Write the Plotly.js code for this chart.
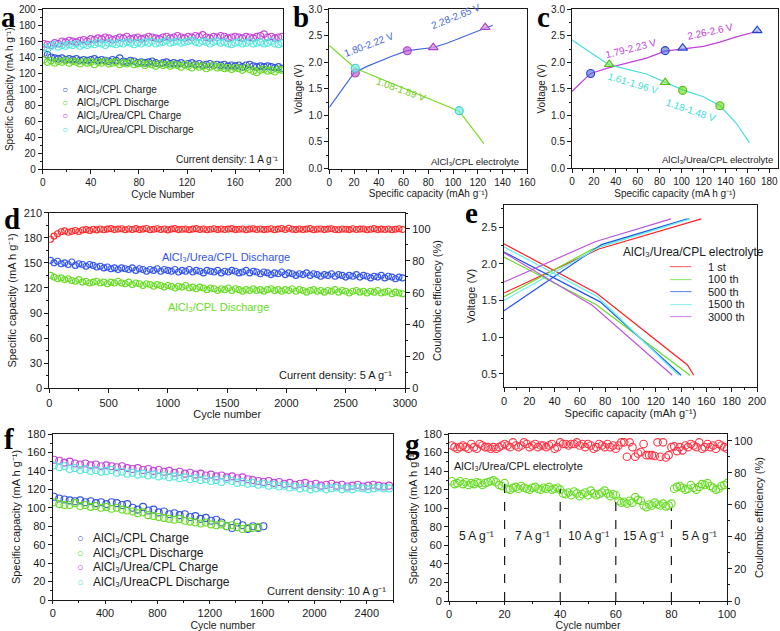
<!DOCTYPE html>
<html><head><meta charset="utf-8">
<script src="https://cdn.plot.ly/plotly-3.0.1.min.js"></script>
<style>html,body{margin:0;padding:0;background:#fff;overflow:hidden}#chart{width:780px;height:631px}</style>
</head><body><div id="chart"></div>
<script>
// ---------------- DATA ----------------
// Panel a (1 A g-1, cycles 1..199 every 3rd cycle)
const aCycleStart = 1, aCycleStep = 3;
const aCplCharge = [145,143,140,139,138,139,137,138,137,138,136,137,136,137,138,136,137,136,135,137,136,139,135,134,136,135,133,134,133,134,135,133,132,133,134,132,133,132,133,131,132,133,131,132,130,131,132,130,131,130,131,129,130,129,130,128,130,131,129,128,129,128,129,128,127,128,126];
const aCplDischarge = [137,134,136,133,135,134,136,133,135,134,132,135,133,134,131,134,133,135,132,133,134,131,133,132,134,131,132,133,130,132,131,129,132,130,131,129,131,130,128,131,129,127,130,128,129,126,128,130,127,128,126,127,125,127,126,124,127,125,123,121,124,125,123,124,122,125,124];
const aUreaCharge = [157,156,155,158,157,160,159,161,160,159,161,162,160,163,162,164,163,165,164,162,163,165,164,166,163,164,165,163,164,166,165,164,163,165,166,164,165,167,165,164,166,165,167,166,168,165,164,166,165,167,166,164,165,166,165,164,166,165,164,166,167,169,165,166,164,165,166];
const aUreaDischarge = [152,150,154,156,153,155,154,156,155,157,154,156,155,157,156,158,157,155,158,157,156,158,157,159,158,156,158,157,159,158,160,157,158,159,161,158,159,160,158,159,160,161,159,158,160,159,157,159,160,158,159,157,156,158,159,157,158,160,157,158,159,157,158,160,157,156,158];
const aNames = ['AlCl₃/CPL Charge','AlCl₃/CPL Discharge','AlCl₃/Urea/CPL Charge','AlCl₃/Urea/CPL Discharge'];

// Panel b (AlCl3/CPL electrolyte)
const bChargeCap = [0,20,30,40,50,63,70,84,95,105,115,126,132];
const bChargeV   = [1.15,1.80,1.92,2.02,2.11,2.22,2.24,2.28,2.36,2.45,2.55,2.65,2.70];
const bDischargeCap = [0,21,105,125];
const bDischargeV   = [2.32,1.89,1.08,0.47];
const bPlateauCircleCap = [21,63],  bPlateauCircleV = [1.80,2.22];
const bPlateauTriCap    = [84,126], bPlateauTriV    = [2.28,2.66];
const bDisPointCap      = [21,105], bDisPointV      = [1.89,1.09];

// Panel c (AlCl3/Urea/CPL electrolyte)
const cChargeCap = [0,17,34,50,68,85,101,120,135,150,170];
const cChargeV   = [1.45,1.79,1.90,1.98,2.08,2.21,2.25,2.30,2.38,2.48,2.59];
const cDischargeCap = [0,34,68,85,101,120,135,150,162];
const cDischargeV   = [2.42,1.95,1.78,1.62,1.48,1.35,1.18,0.85,0.48];
const cChgCircleCap = [17,85],  cChgCircleV = [1.79,2.22];
const cChgTriCap    = [101,169], cChgTriV   = [2.27,2.60];
const cDisTriCap    = [34,85],  cDisTriV    = [1.96,1.62];
const cDisCircleCap = [101,135], cDisCircleV = [1.47,1.18];

// Panel d (5 A g-1, cycles every 30)
const dCycleStart = 10, dCycleStep = 30;
const dEfficiency = [93.5,95.5,97.0,98.2,98.8,97.9,98.5,99.0,98.4,99.3,99.6,99.1,99.8,99.4,100.0,99.5,99.9,100.2,99.6,99.9,100.1,99.5,100.0,99.7,100.2,99.6,99.9,100.3,99.5,99.8,100.1,99.7,100.0,99.4,99.9,100.2,99.6,99.8,100.0,99.5,99.9,100.2,99.7,100.0,99.5,99.8,100.1,99.6,100.0,99.7,99.9,100.2,99.6,99.8,100.0,99.5,99.9,100.1,99.7,100.0,99.6,99.8,100.1,99.5,99.9,100.3,99.7,100.4,99.8,99.6,100.0,99.7,99.9,100.2,99.5,99.8,100.0,99.6,99.9,100.1,99.7,99.5,100.0,99.8,99.6,100.1,99.7,99.9,100.0,99.5,99.8,100.2,99.6,99.9,99.7,100.0,99.5,99.8,100.1,99.7];
const dUreaDischarge = [153,150,152,149,150,148,151,147,149,148,146,148,147,145,146,144,145,143,144,142,144,143,142,144,141,143,142,140,142,141,143,140,142,141,140,142,139,141,140,142,139,141,140,138,141,140,139,141,138,140,139,141,140,138,139,141,138,140,139,137,139,138,136,138,137,139,136,138,137,135,137,136,138,135,137,136,134,136,135,137,134,136,135,133,135,134,136,133,135,134,132,134,133,135,132,134,133,131,133,132];
const dCplDischarge = [135,133,131,132,130,131,129,128,130,127,128,126,127,128,126,127,125,127,126,128,126,125,127,124,126,125,123,125,124,122,124,123,121,123,122,120,122,121,123,120,121,119,121,120,118,120,119,117,119,118,120,117,119,118,116,118,117,119,117,118,116,118,119,117,118,116,118,117,119,116,118,117,115,117,118,116,117,115,117,116,118,115,117,116,114,116,117,115,116,114,116,115,117,114,115,116,113,115,114,113];

// Panel e (voltage profiles at selected cycles)
const eCycleLabels = ['1 st','100 th','500 th','1500 th','3000 th'];
const eChargeCap = [[0,75,156],[0,70,147],[0,77,145],[0,76,147],[0,72,132]];
const eChargeV   = [[1.60,2.20,2.61],[1.55,2.20,2.62],[1.36,2.26,2.61],[1.50,2.23,2.61],[1.75,2.30,2.61]];
const eDischargeCap = [[0,73,145,150],[0,73,147],[0,76,140],[0,74,138],[0,70,133]];
const eDischargeV   = [[2.27,1.60,0.62,0.48],[2.09,1.44,0.48],[2.16,1.48,0.48],[2.23,1.55,0.48],[2.15,1.43,0.48]];

// Panel f (10 A g-1, cycles every 40)
const fCycleStart = 10, fCycleStep = 40;
const fCplCharge = [112,110,109,108,107,108,106,107,105,106,104,106,105,103,104,100,98,101,97,98,95,96,93,94,92,93,90,91,88,89,86,87,84,80,78,84,81,77,80,78,80];
const fCplDischarge = [106,104,103,103,105,102,103,101,102,100,101,99,100,98,97,96,94,95,92,91,90,89,88,87,88,86,85,84,83,84,82,81,82,80,81,79,77,78,78,79];
const fUreaCharge = [152,151,149,150,148,147,148,146,147,145,146,145,144,145,143,142,143,141,142,140,141,139,140,138,139,137,138,136,137,135,136,134,135,133,134,132,133,131,130,129,128,129,127,128,126,127,125,126,127,125,126,124,125,126,124,125,123,124,125,123,124,125,124,123,124];
const fUreaDischarge = [146,144,145,142,143,141,142,140,141,139,140,141,138,139,137,138,136,137,135,136,134,135,133,134,132,133,131,132,130,131,129,130,128,131,129,127,128,126,127,125,126,124,125,123,124,122,123,121,122,120,121,122,120,121,122,120,121,120,122,121,120,121,122,121,121];
const fNames = ['AlCl₃/CPL Charge','AlCl₃/CPL Discharge','AlCl₃/Urea/CPL Charge','AlCl₃/UreaCPL Discharge'];

// Panel g (rate performance, cycles 1..100)
const gCycleStart = 1, gCycleStep = 1;
const gCapacity = [129,126,127,129,126,128,125,127,126,128,127,125,127,128,129,130,128,125,124,127,
                   121,120,122,123,121,124,122,121,120,122,123,121,120,122,121,123,120,121,122,120,
                   116,115,117,114,118,116,113,115,117,114,119,116,114,115,117,119,116,113,115,114,
                   108,106,107,105,108,106,112,109,108,103,101,104,103,106,104,103,105,102,103,105,
                   121,123,124,122,120,121,125,122,120,123,126,125,127,124,122,120,121,124,125,127];
const gEfficiency = [97,96,95,96,97,96,95,98,96,95,98,97,96,96,95,96,95,96,97,98,
                     97,96,99,97,96,97,99,98,96,97,98,96,97,97,96,97,98,95,96,99,
                     98,98,97,98,98,99,97,98,96,98,97,95,96,98,97,96,98,96,97,95,
                     97,99,99,90,99,96,90,92,93,98,91,91,91,90.5,99,90,99,89.5,91,96,
                     96.5,93.5,96,94,97,96,98,97,96,99,95,96,98,96,97,95,98,97,96,95];
const gRateBounds = [0,20,40,60,80,100];
const gRateLabels = ['5 A g⁻¹','7 A g⁻¹','10 A g⁻¹','15 A g⁻¹','5 A g⁻¹'];
const gDividerCycles = [20,40,60,80];
const gDividerTops = [128,121,110,100];

// ---------------- STYLE ----------------
const W = 780, H = 631;
const fx = p => p / W, fy = p => 1 - p / H;
const FONT = 'Liberation Sans, Arial, Helvetica, sans-serif';
const INK = '#1a1a1a';
const BLUE = '#3355dd', GREEN = '#66dd22', MAGENTA = '#c444dd', CYAN = '#55e8dd', RED = '#ff2a2a';
const aColors = [BLUE, GREEN, MAGENTA, CYAN];
const eColors = ['#ff2020', '#66dd22', '#2255ee', '#66eeee', '#bb55dd'];

const cycles = (start, step, n) => Array.from({length: n}, (_, i) => start + i * step);

function axis(o) {
  const t0 = o.tick0 || 0;
  const a = {
    domain: o.domain, range: o.range, autorange: false, dtick: o.dtick, tick0: t0, tickmode: 'linear',
    ticks: 'outside', ticklen: o.ticklen || 4, tickwidth: 1, tickcolor: INK,
    showline: true, linecolor: INK, linewidth: 1, mirror: o.mirror === undefined ? true : o.mirror,
    showgrid: false, zeroline: false, fixedrange: true, automargin: false,
    tickfont: {size: o.fs, color: INK, family: FONT},
    minor: {ticks: 'outside', ticklen: 2, tickwidth: 1, tickcolor: INK, dtick: o.dtick / 2, tick0: t0, showgrid: false},
    title: {text: o.title || '', font: {size: o.tfs || o.fs, color: INK, family: FONT}, standoff: o.standoff === undefined ? 3 : o.standoff},
    anchor: o.anchor
  };
  if (o.tickformat) a.tickformat = o.tickformat;
  if (o.side) a.side = o.side;
  if (o.overlaying) a.overlaying = o.overlaying;
  return a;
}

function dots(x, y, color, xa, ya, size) {
  return {type: 'scatter', mode: 'markers', x, y, xaxis: xa, yaxis: ya, showlegend: false, hoverinfo: 'skip',
          marker: {symbol: 'circle-open', size: size, color: color, line: {width: 1.1, color: color}}};
}
function line(x, y, color, xa, ya, width, dash) {
  return {type: 'scatter', mode: 'lines', x, y, xaxis: xa, yaxis: ya, showlegend: false, hoverinfo: 'skip',
          line: {color: color, width: width || 1.2, dash: dash || 'solid'}};
}
function pts(x, y, color, fill, symbol, xa, ya, size) {
  return {type: 'scatter', mode: 'markers', x, y, xaxis: xa, yaxis: ya, showlegend: false, hoverinfo: 'skip',
          marker: {symbol: symbol, size: size, color: fill, line: {width: 1.1, color: color}}};
}

const traces = [];
// a
[aCplCharge, aCplDischarge, aUreaCharge, aUreaDischarge].forEach((s, i) => {
  traces.push(dots(cycles(aCycleStart, aCycleStep, s.length), s, aColors[i], 'x', 'y', 6.5));
});
// b
traces.push(line(bChargeCap, bChargeV, '#4466dd', 'x2', 'y2'));
traces.push(line(bDischargeCap, bDischargeV, '#77dd22', 'x2', 'y2'));
traces.push(pts(bPlateauCircleCap, bPlateauCircleV, '#b040c8', 'rgba(190,80,210,0.65)', 'circle', 'x2', 'y2', 8));
traces.push(pts(bPlateauTriCap, bPlateauTriV, '#b040c8', 'rgba(210,150,230,0.75)', 'triangle-up', 'x2', 'y2', 8.5));
traces.push(pts(bDisPointCap, bDisPointV, '#44cccc', 'rgba(120,235,235,0.7)', 'circle', 'x2', 'y2', 8));
// c
traces.push(line(cChargeCap, cChargeV, '#c040d8', 'x3', 'y3'));
traces.push(line(cDischargeCap, cDischargeV, '#44dddd', 'x3', 'y3'));
traces.push(pts(cChgCircleCap, cChgCircleV, '#2244cc', 'rgba(70,100,220,0.6)', 'circle', 'x3', 'y3', 8));
traces.push(pts(cChgTriCap, cChgTriV, '#2244cc', 'rgba(140,165,240,0.6)', 'triangle-up', 'x3', 'y3', 8.5));
traces.push(pts(cDisTriCap, cDisTriV, '#55bb11', 'rgba(140,230,80,0.6)', 'triangle-up', 'x3', 'y3', 8.5));
traces.push(pts(cDisCircleCap, cDisCircleV, '#55bb11', 'rgba(110,220,40,0.65)', 'circle', 'x3', 'y3', 8));
// d
traces.push(dots(cycles(dCycleStart, dCycleStep, dUreaDischarge.length), dUreaDischarge, '#3355ee', 'x4', 'y4', 6));
traces.push(dots(cycles(dCycleStart, dCycleStep, dCplDischarge.length), dCplDischarge, GREEN, 'x4', 'y4', 6));
traces.push(dots(cycles(dCycleStart, dCycleStep, dEfficiency.length), dEfficiency, RED, 'x4', 'y5', 6));
// e
eCycleLabels.forEach((lab, i) => {
  traces.push(line(eChargeCap[i], eChargeV[i], eColors[i], 'x5', 'y6', 1.2));
  traces.push(line(eDischargeCap[i], eDischargeV[i], eColors[i], 'x5', 'y6', 1.2));
});
// f
[fCplCharge, fCplDischarge, fUreaCharge, fUreaDischarge].forEach((s, i) => {
  traces.push(dots(cycles(fCycleStart, fCycleStep, s.length), s, aColors[i], 'x6', 'y7', 7));
});
// g
traces.push(dots(cycles(gCycleStart, gCycleStep, gEfficiency.length), gEfficiency, '#ff3344', 'x7', 'y9', 7.5));
traces.push(dots(cycles(gCycleStart, gCycleStep, gCapacity.length), gCapacity, GREEN, 'x7', 'y8', 7.5));
gDividerCycles.forEach((c, i) => traces.push(line([c, c], [0, gDividerTops[i]], INK, 'x7', 'y8', 1.2, 'dash')));

// ---------------- LAYOUT ----------------
const capTitle = 'Specific capacity (mA h g⁻¹)';
const layout = {
  width: W, height: H, margin: {l: 0, r: 0, t: 0, b: 0}, paper_bgcolor: '#fff', plot_bgcolor: 'rgba(0,0,0,0)',
  showlegend: false, font: {family: FONT, color: INK, size: 10},
  // a
  xaxis:  axis({domain: [fx(42.7), fx(283.3)], range: [0, 200], dtick: 40, fs: 10, anchor: 'y', title: 'Cycle Number', standoff: 3}),
  yaxis:  axis({domain: [fy(169.3), fy(9.3)], range: [0, 200], dtick: 20, fs: 10, anchor: 'x', title: 'Specific Capacity (mA h g⁻¹)', standoff: 3}),
  // b
  xaxis2: axis({domain: [fx(329.3), fx(527.3)], range: [0, 160], dtick: 20, fs: 10, anchor: 'y2', title: 'Specific capacity (mAh g⁻¹)', standoff: 3}),
  yaxis2: axis({domain: [fy(168.5), fy(9.3)], range: [0, 3], dtick: 0.5, fs: 10, anchor: 'x2', title: 'Voltage (V)', tickformat: '.1f', standoff: 3}),
  // c
  xaxis3: axis({domain: [fx(572), fx(778)], range: [0, 188], dtick: 20, fs: 10, anchor: 'y3', title: 'Specific capacity (mA h g⁻¹)', standoff: 3}),
  yaxis3: axis({domain: [fy(168.3), fy(9.3)], range: [0, 3], dtick: 0.5, fs: 10, anchor: 'x3', title: 'Voltage (V)', tickformat: '.1f', standoff: 3}),
  // d
  xaxis4: axis({domain: [fx(49.3), fx(405)], range: [0, 3000], dtick: 500, fs: 11, anchor: 'y4', title: 'Cycle number', standoff: 1}),
  yaxis4: axis({domain: [fy(388.3), fy(212.7)], range: [0, 210], dtick: 30, fs: 11, anchor: 'x4', title: capTitle, standoff: 4}),
  yaxis5: axis({domain: [fy(388.3), fy(212.7)], range: [0, 110.2], dtick: 20, fs: 11, anchor: 'x4', title: 'Coulombic efficiency (%)', side: 'right', overlaying: 'y4', mirror: false, standoff: 3}),
  // e
  xaxis5: axis({domain: [fx(504), fx(757)], range: [0, 200], dtick: 20, fs: 11, anchor: 'y6', title: 'Specific capacity (mAh g⁻¹)', standoff: 1}),
  yaxis6: axis({domain: [fy(387), fy(205)], range: [0.32, 2.8], dtick: 0.5, tick0: 0.5, fs: 11, anchor: 'x5', title: 'Voltage (V)', tickformat: '.1f', standoff: 3}),
  // f
  xaxis6: axis({domain: [fx(52.7), fx(393)], range: [0, 2600], dtick: 400, fs: 11, tfs: 10.5, ticklen: 3, anchor: 'y7', title: 'Cycle number', standoff: 0}),
  yaxis7: axis({domain: [fy(600), fy(434)], range: [0, 180], dtick: 20, fs: 11, anchor: 'x6', title: capTitle, standoff: 4}),
  // g
  xaxis7: axis({domain: [fx(449), fx(727)], range: [0, 100], dtick: 20, fs: 11, tfs: 10.5, ticklen: 3, anchor: 'y8', title: 'Cycle number', standoff: 0}),
  yaxis8: axis({domain: [fy(601), fy(434)], range: [0, 180], dtick: 20, fs: 11, anchor: 'x7', title: capTitle, standoff: 3}),
  yaxis9: axis({domain: [fy(601), fy(434)], range: [0, 104.2], dtick: 20, fs: 11, anchor: 'x7', title: 'Coulombic efficiency (%)', side: 'right', overlaying: 'y8', mirror: false, standoff: 3}),
  annotations: []
};

const ann = layout.annotations;
function note(text, xref, yref, x, y, o) {
  o = o || {};
  ann.push({text, xref, yref, x, y, showarrow: false, xanchor: o.xanchor || 'center', yanchor: o.yanchor || 'middle',
            align: o.align || 'left', textangle: o.angle || 0, borderpad: 0,
            font: {family: o.family || FONT, size: o.size || 10, color: o.color || INK}});
}
// panel letters
const letters = ['a','b','c','d','e','f','g'];
const letterPx = [[8,16.5],[301,16.5],[543,16.5],[12,219],[472,213],[9,439],[412,444]];
letters.forEach((L, i) => note('<b>' + L + '</b>', 'paper', 'paper', fx(letterPx[i][0]), fy(letterPx[i][1]),
  {size: 29, family: 'Liberation Serif, Times New Roman, serif', color: '#000'}));

// a legend & note
aNames.forEach((n, i) => {
  note('○', 'paper', 'paper', fx(65), fy(89.3 + i * 13.3), {size: 10, color: aColors[i]});
  note(n, 'paper', 'paper', fx(76), fy(89.3 + i * 13.3), {xanchor: 'left', size: 10});
});
note('Current density: 1 A g⁻¹', 'x', 'y', 197, 12, {xanchor: 'right', size: 10});
// b notes
note('1.80-2.22 V', 'x2', 'y2', 32, 2.33, {angle: -21, color: '#4466dd', size: 10});
note('2.28-2.65 V', 'x2', 'y2', 102, 2.86, {angle: -22, color: '#4466dd', size: 10});
note('1.08-1.89 V', 'x2', 'y2', 58, 1.48, {angle: 20, color: '#77cc22', size: 10});
note('AlCl₃/CPL electrolyte', 'x2', 'y2', 154, 0.14, {xanchor: 'right', size: 9.5});
// c notes
note('1.79-2.23 V', 'x3', 'y3', 54, 2.26, {angle: -14, color: '#c040d8', size: 10});
note('2.26-2.6 V', 'x3', 'y3', 126, 2.58, {angle: -12, color: '#c040d8', size: 10});
note('1.61-1.96 V', 'x3', 'y3', 56, 1.6, {angle: 17, color: '#44dddd', size: 10});
note('1.18-1.48 V', 'x3', 'y3', 109, 1.1, {angle: 19, color: '#44dddd', size: 10});
note('AlCl₃/Urea/CPL electrolyte', 'x3', 'y3', 184, 0.16, {xanchor: 'right', size: 9.5});
// d notes
note('AlCl₃/Urea/CPL Discharge', 'x4', 'y4', 1494, 157, {color: '#3355ee', size: 11});
note('AlCl₃/CPL Discharge', 'x4', 'y4', 1430, 97, {color: GREEN, size: 11});
note('Current density: 5 A g⁻¹', 'x4', 'y4', 2900, 16, {xanchor: 'right', size: 11});
// e legend
note('AlCl₃/Urea/CPL electrolyte', 'paper', 'paper', fx(622), fy(252), {xanchor: 'left', size: 12});
eCycleLabels.forEach((lab, i) => {
  note('───', 'paper', 'paper', fx(680), fy(266.7 + i * 12.5), {size: 10, color: eColors[i]});
  note(lab, 'paper', 'paper', fx(707), fy(266.7 + i * 12.5), {xanchor: 'left', size: 11});
});
// f legend & note
fNames.forEach((n, i) => {
  note('○', 'paper', 'paper', fx(80), fy(538.3 + i * 14.5), {size: 11, color: aColors[i]});
  note(n, 'paper', 'paper', fx(91.7), fy(538.3 + i * 14.5), {xanchor: 'left', size: 12});
});
note('Current density: 10 A g⁻¹', 'x6', 'y7', 2555, 10, {xanchor: 'right', size: 11});
// g notes
note('AlCl₃/Urea/CPL electrolyte', 'x7', 'y8', 1.5, 146, {xanchor: 'left', size: 11});
gRateLabels.forEach((lab, i) => note(lab, 'x7', 'y8', (gRateBounds[i] + gRateBounds[i + 1]) / 2, 70, {size: 12}));

Plotly.newPlot('chart', traces, layout, {staticPlot: true, displayModeBar: false});
</script></body></html>
